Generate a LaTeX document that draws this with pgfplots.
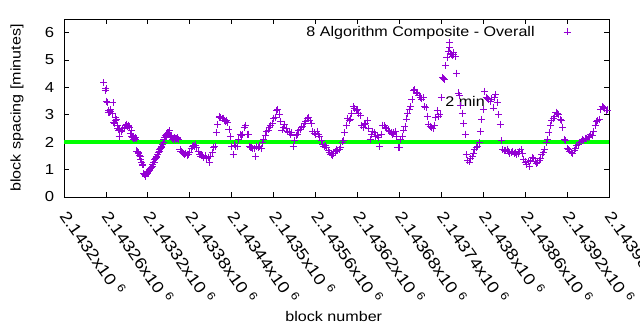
\documentclass[border=0pt]{standalone}
\usepackage{pgfplots}
\pgfplotsset{compat=1.18}
\usepackage{fontspec}
\setmainfont{Liberation Sans}[FakeStretch=1.15]
\definecolor{gpviolet}{HTML}{9400D3}
\definecolor{gpgreen}{HTML}{00FF00}
\newcommand{\xl}[1]{#1x10\ \textsuperscript{6}}
\begin{document}
\fontsize{14}{17}\selectfont
\begin{tikzpicture}
\begin{axis}[
  name=main,
  at={(0,0)}, anchor=south west,
  scale only axis, width=545pt, height=178pt,
  xmin=2143200, xmax=2143980, ymin=0, ymax=6.5,
  xtick={2143200,2143260,2143320,2143380,2143440,2143500,2143560,2143620,2143680,2143740,2143800,2143860,2143920,2143980},
  xticklabels={\xl{2.1432},\xl{2.14326},\xl{2.14332},\xl{2.14338},\xl{2.14344},\xl{2.1435},\xl{2.14356},\xl{2.14362},\xl{2.14368},\xl{2.14374},\xl{2.1438},\xl{2.14386},\xl{2.14392},\xl{2.14398}},
  ytick={0,1,2,3,4,5,6},
  scaled x ticks=false,
  /pgf/number format/assume math mode=true,
  tick align=inside, major tick length=5pt,
  tick style={black, line width=0.8pt},
  axis line style={black, line width=0.8pt},
  xticklabel style={rotate=-55, anchor=north west, xshift=8pt, yshift=4pt, font=\fontsize{16}{19}\selectfont},
  yticklabel style={xshift=-5pt, font=\fontsize{14.5}{17}\selectfont},
  xlabel={block number}, ylabel={block spacing [minutes]},
  every axis x label/.style={at={(axis description cs:0.495,-0.669)}, anchor=center, font=\fontsize{14}{17}\selectfont},
  every axis y label/.style={at={(axis description cs:-0.0862,0.5)}, rotate=90, anchor=center, font=\fontsize{14}{17}\selectfont},
  legend plot pos=right,
  legend style={draw=none, fill=none, inner sep=0pt, column sep=27pt, at={(axis description cs:0.930,0.927)}, anchor=east, font=\fontsize{14}{17}\selectfont},
]
\addplot[only marks, mark=+, mark size=3.5pt, gpviolet, mark options={line width=0.8pt}] table {
x y
2143257 4.18
2143259 3.90
2143260 3.95
2143261 3.50
2143262 3.46
2143263 3.10
2143264 3.16
2143265 3.08
2143266 3.12
2143267 3.20
2143269 3.05
2143270 3.44
2143271 2.72
2143272 2.68
2143273 2.78
2143274 2.90
2143275 2.82
2143276 2.62
2143277 2.52
2143278 2.45
2143279 2.22
2143280 2.48
2143282 2.40
2143283 2.45
2143284 2.50
2143286 2.55
2143287 2.52
2143288 2.60
2143289 2.64
2143290 2.66
2143291 2.56
2143292 2.62
2143293 2.58
2143294 2.53
2143295 2.32
2143296 2.42
2143297 2.20
2143298 2.18
2143299 2.12
2143300 2.16
2143301 2.14
2143302 2.17
2143303 2.12
2143304 1.68
2143305 1.65
2143306 1.62
2143307 1.58
2143308 1.52
2143309 1.47
2143310 1.38
2143311 1.28
2143312 1.18
2143313 1.17
2143314 0.86
2143315 0.82
2143316 0.80
2143317 0.76
2143318 0.84
2143319 0.87
2143320 0.92
2143321 0.95
2143322 0.97
2143323 1.01
2143324 1.04
2143325 1.08
2143326 1.12
2143327 1.18
2143328 1.25
2143329 1.28
2143330 1.36
2143331 1.42
2143332 1.46
2143333 1.50
2143334 1.55
2143335 1.62
2143336 1.68
2143337 1.73
2143338 1.76
2143339 1.80
2143340 1.84
2143341 1.92
2143342 1.98
2143343 2.10
2143344 2.18
2143345 2.24
2143346 2.20
2143347 2.28
2143348 2.34
2143349 2.30
2143350 2.36
2143351 2.42
2143352 2.26
2143353 2.20
2143354 2.16
2143355 2.12
2143356 2.15
2143357 2.10
2143358 2.18
2143359 2.14
2143360 2.10
2143361 2.12
2143362 2.17
2143363 2.15
2143364 2.10
2143366 1.72
2143367 1.68
2143368 1.66
2143370 1.62
2143371 1.58
2143372 1.56
2143374 1.60
2143376 1.52
2143377 1.56
2143378 1.55
2143380 1.62
2143382 1.78
2143384 1.86
2143385 1.88
2143386 1.84
2143388 1.90
2143390 1.80
2143392 1.66
2143394 1.57
2143395 1.55
2143396 1.50
2143398 1.53
2143400 1.44
2143402 1.50
2143404 1.40
2143406 1.46
2143408 1.25
2143410 1.50
2143412 1.62
2143414 1.82
2143416 1.85
2143418 2.35
2143420 2.64
2143422 2.92
2143423 2.94
2143424 2.90
2143426 2.86
2143428 2.88
2143430 2.80
2143431 2.76
2143432 2.78
2143434 2.72
2143436 2.46
2143438 2.22
2143440 1.84
2143442 1.55
2143444 1.90
2143446 1.85
2143448 1.86
2143450 2.10
2143452 2.28
2143454 2.25
2143456 2.30
2143458 2.55
2143460 2.60
2143462 2.28
2143464 2.30
2143466 1.85
2143467 1.80
2143468 1.82
2143470 1.76
2143472 1.78
2143474 1.47
2143476 1.85
2143478 1.80
2143480 1.84
2143482 1.76
2143484 1.98
2143486 2.12
2143488 2.24
2143490 2.38
2143492 2.45
2143494 2.55
2143496 2.62
2143498 2.70
2143500 2.88
2143502 2.92
2143504 3.15
2143506 3.20
2143508 3.02
2143510 2.75
2143512 2.45
2143514 2.55
2143516 2.65
2143518 2.50
2143520 2.40
2143522 2.36
2143524 2.30
2143526 2.35
2143528 1.83
2143530 2.05
2143532 2.25
2143534 2.30
2143536 2.42
2143538 2.48
2143540 2.55
2143542 2.58
2143544 2.70
2143546 2.75
2143548 2.88
2143550 2.92
2143552 2.80
2143554 2.70
2143556 2.40
2143558 2.34
2143560 2.28
2143562 2.38
2143564 2.30
2143566 2.22
2143568 2.05
2143570 1.92
2143572 1.85
2143574 1.88
2143576 1.82
2143578 1.70
2143580 1.62
2143582 1.56
2143584 1.52
2143586 1.58
2143588 1.65
2143590 1.75
2143592 1.70
2143594 1.72
2143596 1.80
2143598 2.01
2143600 2.05
2143602 2.35
2143604 2.62
2143606 2.88
2143608 2.80
2143610 2.85
2143612 3.05
2143614 3.30
2143616 3.22
2143618 3.15
2143620 3.20
2143622 3.05
2143624 2.98
2143626 2.60
2143628 2.55
2143630 2.64
2143632 2.70
2143634 2.80
2143636 2.50
2143638 2.10
2143640 2.30
2143642 2.38
2143644 2.35
2143646 2.20
2143648 2.25
2143650 2.18
2143652 1.83
2143654 2.30
2143656 2.62
2143658 2.60
2143660 2.55
2143662 2.50
2143664 2.45
2143666 2.40
2143668 2.34
2143670 2.30
2143672 2.35
2143674 2.40
2143676 2.20
2143678 1.80
2143680 1.82
2143682 2.10
2143684 2.22
2143686 2.45
2143688 2.58
2143690 2.85
2143692 3.05
2143694 3.20
2143696 3.30
2143698 3.55
2143700 3.88
2143702 3.92
2143704 3.82
2143706 3.80
2143708 3.72
2143710 3.65
2143712 3.58
2143714 3.62
2143716 3.30
2143718 3.26
2143720 2.95
2143722 2.65
2143724 2.58
2143726 2.55
2143728 2.50
2143730 2.62
2143732 2.90
2143734 3.15
2143736 2.95
2143738 3.00
2143740 3.62
2143742 4.36
2143743 4.32
2143744 4.30
2143746 4.80
2143748 5.10
2143750 5.30
2143751 5.63
2143752 5.45
2143753 5.25
2143754 5.20
2143756 5.15
2143757 5.22
2143758 5.28
2143760 5.12
2143762 4.52
2143764 3.80
2143766 3.72
2143768 3.35
2143770 3.05
2143772 2.70
2143774 2.30
2143776 1.55
2143778 1.32
2143780 1.28
2143782 1.42
2143784 1.48
2143786 1.60
2143788 1.72
2143790 1.80
2143792 1.84
2143794 1.98
2143796 2.38
2143798 2.82
2143800 3.20
2143802 3.86
2143804 3.65
2143806 3.60
2143808 3.55
2143810 3.50
2143812 3.58
2143814 3.25
2143816 3.62
2143818 3.74
2143820 3.45
2143822 3.02
2143824 2.65
2143826 2.05
2143828 1.72
2143830 1.70
2143832 1.68
2143834 1.75
2143836 1.65
2143838 1.60
2143840 1.62
2143842 1.66
2143844 1.58
2143846 1.62
2143848 1.55
2143850 1.60
2143852 1.65
2143854 1.72
2143856 1.60
2143858 1.38
2143860 1.28
2143862 1.20
2143864 1.30
2143866 1.10
2143868 1.35
2143870 1.45
2143872 1.42
2143874 1.30
2143876 1.22
2143878 1.25
2143880 1.32
2143882 1.42
2143884 1.55
2143886 1.62
2143888 1.75
2143890 1.98
2143892 2.10
2143894 2.35
2143896 2.62
2143898 2.80
2143900 2.88
2143902 2.95
2143904 3.10
2143906 3.05
2143908 3.00
2143910 2.82
2143912 2.78
2143914 2.55
2143916 2.10
2143918 2.05
2143920 1.78
2143922 1.72
2143924 1.68
2143926 1.62
2143928 1.60
2143930 1.70
2143932 1.78
2143934 1.88
2143936 1.92
2143938 2.00
2143940 2.02
2143942 2.10
2143944 2.08
2143946 2.15
2143948 2.12
2143950 2.18
2143952 2.22
2143954 2.30
2143956 2.25
2143958 2.40
2143960 2.62
2143962 2.75
2143964 2.78
2143966 2.82
2143968 3.20
2143970 3.30
2143972 3.28
2143974 3.22
2143976 3.15
2143978 3.18
};
\addlegendentry{8 Algorithm Composite - Overall}
\addplot[gpgreen, line width=4pt, forget plot] coordinates {(2143200,2) (2143980,2)};
\node[font=\fontsize{14}{17}\selectfont] at (axis cs:2143774,3.48) {2 min};
\end{axis}
\pgfresetboundingbox
\path[use as bounding box] ([shift={(-64pt,-133pt)}]main.south west) rectangle ([shift={(31pt,19pt)}]main.north east);
\end{tikzpicture}
\end{document}
